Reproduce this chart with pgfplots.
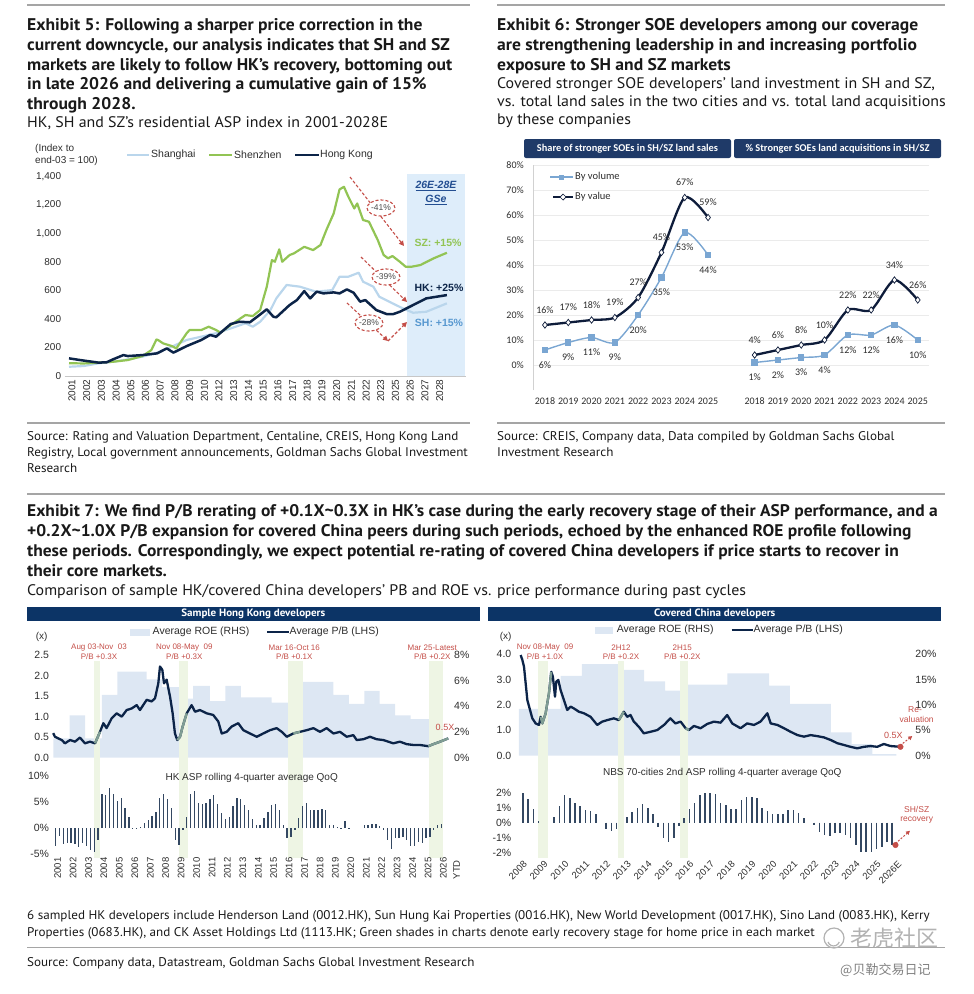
\documentclass[border=0pt]{standalone}
\usepackage{fontspec}
\setmainfont{Liberation Sans}
\newfontfamily\gs[FakeStretch=1.04]{PT Sans}
\newfontfamily\carl{Carlito}
\newfontfamily\cjk{Noto Sans CJK SC}
\usepackage{pgfplots}
\usepackage{pgfplotstable}
\pgfplotsset{compat=1.18}
\usetikzlibrary{arrows.meta}

\newcommand{\fs}[1]{\fontsize{#1}{#1}\selectfont}

\definecolor{txt}{RGB}{45,45,45}
\definecolor{ttl}{RGB}{25,25,25}
\definecolor{rulec}{RGB}{165,165,165}
\definecolor{hkblue}{RGB}{12,36,72}
\definecolor{szgreen}{RGB}{146,196,84}
\definecolor{shblue}{RGB}{186,214,236}
\definecolor{shlab}{RGB}{88,152,208}
\definecolor{fcast}{RGB}{222,237,250}
\definecolor{gsblue}{RGB}{35,78,145}
\definecolor{annred}{RGB}{196,78,72}
\definecolor{hdr}{RGB}{31,58,104}
\definecolor{vol}{RGB}{122,166,210}
\definecolor{val}{RGB}{14,28,58}
\definecolor{roe}{RGB}{221,231,243}
\definecolor{band}{RGB}{238,245,228}
\definecolor{bandline}{RGB}{128,158,148}
\definecolor{barc}{RGB}{52,72,98}
\definecolor{hdrb}{RGB}{12,52,102}

\pgfplotsset{
  panel/.style={scale only axis, anchor=south west, clip=false,
    major tick length=0pt, axis line style={draw=none},
    tick label style={font=\fs{10.5}, text=txt},
    /pgf/number format/assume math mode=true},
}

% ---------- data ----------
% HK average P/B
\pgfplotstableread{
x y
2000.84 0.60
2000.95 0.51
2001.17 0.47
2001.39 0.43
2001.60 0.35
2001.93 0.43
2002.25 0.39
2002.57 0.49
2002.90 0.35
2003.22 0.39
2003.55 0.35
2003.87 0.63
2004.09 0.84
2004.30 0.72
2004.63 0.96
2004.95 1.08
2005.28 1.00
2005.60 1.16
2005.93 1.20
2006.25 1.28
2006.46 1.16
2006.90 1.41
2007.22 1.37
2007.44 1.45
2007.65 1.81
2007.76 2.22
2007.91 2.14
2008.02 1.81
2008.19 1.90
2008.41 1.49
2008.58 1.08
2008.73 0.59
2008.88 0.43
2009.06 0.51
2009.23 0.76
2009.49 1.08
2009.81 1.28
2010.03 1.12
2010.35 1.16
2010.79 1.08
2011.21 1.04
2011.54 0.88
2011.76 0.59
2012.08 0.63
2012.41 0.76
2012.83 0.84
2013.16 0.67
2013.59 0.59
2014.03 0.51
2014.45 0.59
2014.89 0.67
2015.32 0.72
2015.65 0.63
2015.97 0.51
2016.40 0.59
2016.83 0.63
2017.27 0.67
2017.70 0.72
2018.13 0.63
2018.56 0.72
2019.00 0.59
2019.43 0.63
2019.86 0.51
2020.29 0.55
2020.51 0.43
2020.94 0.45
2021.37 0.51
2021.80 0.45
2022.23 0.43
2022.88 0.35
2023.31 0.39
2023.75 0.33
2024.18 0.31
2024.61 0.31
2025.15 0.28
2025.47 0.33
2025.91 0.39
2026.44 0.47
}\hkpb

% China average P/B
\pgfplotstableread{
x y
2007.89 3.96
2007.97 3.77
2008.05 3.50
2008.13 2.85
2008.21 2.19
2008.34 1.80
2008.45 1.47
2008.61 1.27
2008.77 1.21
2008.85 1.53
2008.93 1.27
2009.09 1.67
2009.25 2.45
2009.36 3.30
2009.44 3.10
2009.54 2.32
2009.60 2.91
2009.70 2.98
2009.81 2.58
2009.97 2.19
2010.13 1.80
2010.29 1.93
2010.45 1.86
2010.69 1.73
2010.93 1.67
2011.25 1.53
2011.57 1.21
2011.81 1.34
2012.05 1.40
2012.37 1.47
2012.61 1.40
2012.85 1.73
2013.01 1.53
2013.17 1.60
2013.33 1.34
2013.57 1.14
2013.81 0.88
2014.13 0.94
2014.46 1.01
2014.78 1.21
2015.09 1.47
2015.33 1.27
2015.58 1.34
2015.82 1.08
2015.98 1.01
2016.22 1.17
2016.54 1.08
2016.86 1.25
2017.18 1.34
2017.50 1.30
2017.82 1.60
2018.06 1.27
2018.46 1.08
2018.78 1.27
2019.11 1.21
2019.42 1.34
2019.75 1.67
2019.91 1.27
2020.23 1.21
2020.55 1.08
2020.87 0.94
2021.20 0.81
2021.51 0.75
2021.83 0.81
2022.15 0.77
2022.47 0.72
2022.79 0.62
2023.12 0.49
2023.44 0.42
2023.75 0.35
2024.07 0.29
2024.39 0.35
2024.71 0.38
2025.03 0.35
2025.35 0.46
2025.67 0.38
2026.15 0.35
}\cnpb

% HK ASP rolling 4Q avg QoQ (%), quarterly
\pgfplotstableread{
x y
2001.00 -3.5
2001.25 -1.5
2001.50 -3.0
2001.75 -2.8
2002.00 -2.8
2002.25 -3.0
2002.50 -3.6
2002.75 -2.8
2003.00 -3.5
2003.25 -4.3
2003.50 -4.6
2003.75 -2.3
2004.00 6.6
2004.25 6.3
2004.50 7.6
2004.75 6.6
2005.00 5.1
2005.25 5.8
2005.50 3.8
2005.75 2.2
2006.00 -0.2
2006.25 -0.1
2006.50 0.1
2006.75 1.0
2007.00 1.5
2007.25 2.4
2007.50 3.1
2007.75 5.8
2008.00 6.6
2008.25 5.6
2008.50 3.8
2008.75 -2.4
2009.00 -3.3
2009.25 -0.4
2009.50 2.1
2009.75 6.6
2010.00 7.1
2010.25 4.8
2010.50 4.7
2010.75 4.9
2011.00 5.6
2011.25 6.3
2011.50 4.6
2011.75 2.8
2012.00 1.8
2012.25 2.1
2012.50 4.2
2012.75 5.8
2013.00 5.5
2013.25 4.4
2013.50 3.4
2013.75 1.8
2014.00 0.5
2014.25 0.6
2014.50 2.0
2014.75 3.1
2015.00 4.5
2015.25 4.7
2015.50 3.5
2015.75 0.6
2016.00 -2.0
2016.25 -1.7
2016.50 -0.3
2016.75 1.9
2017.00 4.2
2017.25 4.9
2017.50 3.5
2017.75 3.5
2018.00 3.5
2018.25 3.7
2018.50 3.4
2018.75 0.6
2019.00 0.6
2019.25 0.2
2019.50 -0.1
2019.75 1.3
2020.00 -0.2
2020.25 0.0
2020.50 0.0
2020.75 0.0
2021.00 0.6
2021.25 0.5
2021.50 0.8
2021.75 0.8
2022.00 0.3
2022.25 -0.4
2022.50 -2.4
2022.75 -4.0
2023.00 -2.0
2023.25 -2.0
2023.50 -1.7
2023.75 -2.4
2024.00 -3.5
2024.25 -3.5
2024.50 -2.6
2024.75 -2.9
2025.00 -2.0
2025.25 -1.7
2025.50 -0.4
2025.75 0.6
2026.00 0.8
}\hkasp

% NBS 70-cities 2nd ASP rolling 4Q avg QoQ (%), quarterly
\pgfplotstableread{
x y
2008.00 1.98
2008.25 1.57
2008.50 0.90
2008.75 0.13
2009.00 0.00
2009.25 0.00
2009.50 0.36
2009.75 1.12
2010.00 1.87
2010.25 1.64
2010.50 1.35
2010.75 1.15
2011.00 0.85
2011.25 0.80
2011.50 0.56
2011.75 0.00
2012.00 -0.45
2012.25 -0.54
2012.50 -0.45
2012.75 0.00
2013.00 0.36
2013.25 0.74
2013.50 0.97
2013.75 1.26
2014.00 0.97
2014.25 0.56
2014.50 -0.27
2014.75 -1.00
2015.00 -1.28
2015.25 -1.06
2015.50 -0.20
2015.75 0.29
2016.00 0.90
2016.25 1.30
2016.50 1.87
2016.75 1.98
2017.00 1.98
2017.25 1.93
2017.50 1.35
2017.75 1.19
2018.00 0.90
2018.25 0.90
2018.50 1.53
2018.75 1.71
2019.00 1.75
2019.25 1.64
2019.50 1.00
2019.75 0.80
2020.00 0.58
2020.25 0.58
2020.50 0.58
2020.75 0.85
2021.00 0.85
2021.25 0.63
2021.50 0.29
2021.75 0.00
2022.00 -0.16
2022.25 -0.60
2022.50 -0.83
2022.75 -0.90
2023.00 -0.67
2023.25 -0.72
2023.50 -0.83
2023.75 -1.06
2024.00 -1.50
2024.25 -2.00
2024.50 -2.00
2024.75 -2.00
2025.00 -1.80
2025.25 -1.66
2025.50 -1.28
2025.75 -1.50
}\cnasp

\begin{document}
\begin{tikzpicture}
\path[use as bounding box] (0pt,0pt) rectangle (974pt,-994pt);

\begin{scope}[x=1pt,y=-1pt]
\coordinate (e5) at (64.6,376);
\coordinate (e6) at (533.3,390);
\coordinate (hkt) at (52.6,757.7);
\coordinate (hkb) at (52.6,854);
\coordinate (cnt) at (518.8,755.7);
\coordinate (cnb) at (518.8,855.4);

% rules
\draw[rulec, line width=1.6pt] (27,5) -- (470,5);
\draw[rulec, line width=1.6pt] (497,5) -- (945,5);
\draw[rulec, line width=1.6pt] (27,423) -- (470,423);
\draw[rulec, line width=1.6pt] (497,423) -- (945,423);
\draw[rulec, line width=1.6pt] (27,494) -- (945,494);
\draw[rulec, line width=0.8pt] (27,947) -- (945,947);

% titles
\begin{scope}[every node/.style={anchor=base west, inner sep=0pt, text=ttl}]
\node[font=\gs\bfseries\fs{16.9}] at (27,30) {Exhibit 5: Following a sharper price correction in the};
\node[font=\gs\bfseries\fs{16.9}] at (27,50) {current downcycle, our analysis indicates that SH and SZ};
\node[font=\gs\bfseries\fs{16.9}] at (27,70) {markets are likely to follow HK’s recovery, bottoming out};
\node[font=\gs\bfseries\fs{16.9}] at (27,89) {in late 2026 and delivering a cumulative gain of 15\%};
\node[font=\gs\bfseries\fs{16.9}] at (27,109) {through 2028.};
\node[font=\gs\fs{15.3}] at (27,127) {HK, SH and SZ’s residential ASP index in 2001-2028E};

\node[font=\gs\bfseries\fs{16.9}] at (497,30) {Exhibit 6: Stronger SOE developers among our coverage};
\node[font=\gs\bfseries\fs{16.9}] at (497,50) {are strengthening leadership in and increasing portfolio};
\node[font=\gs\bfseries\fs{16.9}] at (497,70) {exposure to SH and SZ markets};
\node[font=\gs\fs{15.3}] at (497,88) {Covered stronger SOE developers’ land investment in SH and SZ,};
\node[font=\gs\fs{15.3}] at (497,106) {vs. total land sales in the two cities and vs. total land acquisitions};
\node[font=\gs\fs{15.3}] at (497,124) {by these companies};

\node[font=\gs\fs{12.6}] at (27,440) {Source: Rating and Valuation Department, Centaline, CREIS, Hong Kong Land};
\node[font=\gs\fs{12.6}] at (27,456) {Registry, Local government announcements, Goldman Sachs Global Investment};
\node[font=\gs\fs{12.6}] at (27,472) {Research};
\node[font=\gs\fs{12.6}] at (497,440) {Source: CREIS, Company data, Data compiled by Goldman Sachs Global};
\node[font=\gs\fs{12.6}] at (497,456) {Investment Research};

\node[font=\gs\bfseries\fs{16.8}] at (27,516) {Exhibit 7: We find P/B rerating of +0.1X\textasciitilde0.3X in HK’s case during the early recovery stage of their ASP performance, and a};
\node[font=\gs\bfseries\fs{16.8}] at (27,536) {+0.2X\textasciitilde1.0X P/B expansion for covered China peers during such periods, echoed by the enhanced ROE profile following};
\node[font=\gs\bfseries\fs{16.8}] at (27,556) {these periods. Correspondingly, we expect potential re-rating of covered China developers if price starts to recover in};
\node[font=\gs\bfseries\fs{16.8}] at (27,576) {their core markets.};
\node[font=\gs\fs{15.3}] at (27,595) {Comparison of sample HK/covered China developers’ PB and ROE vs. price performance during past cycles};

\node[font=\gs\fs{12.6}] at (27,919.5) {6 sampled HK developers include Henderson Land (0012.HK), Sun Hung Kai Properties (0016.HK), New World Development (0017.HK), Sino Land (0083.HK), Kerry};
\node[font=\gs\fs{12.6}] at (27,936.5) {Properties (0683.HK), and CK Asset Holdings Ltd (1113.HK; Green shades in charts denote early recovery stage for home price in each market};
\node[font=\gs\fs{12.6}] at (27,966.5) {Source: Company data, Datastream, Goldman Sachs Global Investment Research};
\end{scope}

% watermark
\draw[black!30, line width=1.2pt] (834,938) circle (10pt);
\draw[black!30, line width=1.2pt] (828,942) arc[start angle=200, end angle=340, radius=6pt];
\node[font=\cjk\fs{22}, text=black!30, anchor=west, inner sep=0] at (850,938) {老虎社区};
\node[font=\cjk\fs{13}, text=black!50, anchor=west, inner sep=0] at (840,970) {@贝勒交易日记};

% ----- Exhibit 5 decorations -----
\node[font=\fs{10}, text=txt, anchor=west, inner sep=0, align=left] at (35,149) {(Index to};
\node[font=\fs{10}, text=txt, anchor=west, inner sep=0] at (35,161) {end-03 = 100)};
\draw[shblue, line width=2.4pt] (127,155) -- (149,155);
\node[font=\fs{10.5}, text=txt, anchor=west, inner sep=0] at (151,155) {Shanghai};
\draw[szgreen, line width=2.4pt] (209,155) -- (232,155);
\node[font=\fs{10.5}, text=txt, anchor=west, inner sep=0] at (234,155) {Shenzhen};
\draw[hkblue, line width=2.4pt] (295,155) -- (319,155);
\node[font=\fs{10.5}, text=txt, anchor=west, inner sep=0] at (320,155) {Hong Kong};

% ----- Exhibit 6 decorations -----
\fill[hdr, rounded corners=2pt] (524,139) rectangle (731,158);
\fill[hdr, rounded corners=2pt] (734,139) rectangle (941,158);
\node[font=\carl\bfseries\fs{10.4}, text=white] at (627.5,148.5) {Share of stronger SOEs in SH/SZ land sales};
\node[font=\carl\bfseries\fs{10.4}, text=white] at (837.5,148.5) {\% Stronger SOEs land acquisitions in SH/SZ};
\draw[vol, line width=1.3pt] (550,177) -- (573,177);
\fill[vol] (559,174.5) rectangle (564,179.5);
\node[font=\carl\fs{10.5}, text=txt, anchor=west, inner sep=0] at (575,177) {By volume};
\draw[val, line width=2.2pt] (553,197) -- (573,197);
\draw[val, fill=white, line width=0.7pt] (563,194) -- (566,197) -- (563,200) -- (560,197) -- cycle;
\node[font=\carl\fs{10.5}, text=txt, anchor=west, inner sep=0] at (575,197) {By value};

% ----- Exhibit 7 decorations -----
\fill[hdrb] (26.7,607.3) rectangle (480,620.7);
\fill[hdrb] (488.3,607.3) rectangle (941,620.7);
\node[font=\gs\bfseries\fs{10.6}, text=white] at (253.3,614) {Sample Hong Kong developers};
\node[font=\gs\bfseries\fs{10.6}, text=white] at (714.7,614) {Covered China developers};
\fill[roe] (130,628.5) rectangle (150,635.5);
\node[font=\fs{10.5}, text=txt, anchor=west, inner sep=0] at (152.5,632) {Average ROE (RHS)};
\draw[hkblue, line width=2pt] (267,632) -- (289,632);
\node[font=\fs{10.5}, text=txt, anchor=west, inner sep=0] at (289.5,632) {Average P/B (LHS)};
\fill[roe] (595,626.5) rectangle (613.3,633.5);
\node[font=\fs{10.5}, text=txt, anchor=west, inner sep=0] at (616.7,630) {Average ROE (RHS)};
\draw[hkblue, line width=2pt] (731.7,630) -- (753.3,630);
\node[font=\fs{10.5}, text=txt, anchor=west, inner sep=0] at (753.5,630) {Average P/B (LHS)};
\node[font=\fs{10}, text=txt] at (41.7,637) {(x)};
\node[font=\fs{10}, text=txt] at (505.7,637) {(x)};
\end{scope}

% ================= Exhibit 5 =================
\begin{axis}[panel, at={(e5)}, width=401.4pt, height=202.3pt,
  xmin=-0.3, xmax=27, ymin=0, ymax=1420,
  axis x line*=bottom, axis y line*=left,
  x axis line style={draw=black!22, line width=0.8pt, -},
  y axis line style={draw=none},
  xtick={0,1,2,3,4,5,6,7,8,9,10,11,12,13,14,15,16,17,18,19,20,21,22,23,24,25},
  xticklabels={2001,2002,2003,2004,2005,2006,2007,2008,2009,2010,2012,2013,2014,2015,2016,2017,2018,2019,2020,2021,2022,2023,2025,2026,2027,2028},
  xticklabel style={rotate=90, anchor=east, font=\fs{10}, yshift=-3pt},
  ytick={0,200,400,600,800,1000,1200,1400}, scaled y ticks=false,
  yticklabel style={font=\fs{10}, /pgf/number format/1000 sep={,}},
  line join=round,
]
\addplot[draw=none, fill=fcast] coordinates {(23.0,1420) (26.9,1420)} \closedcycle;
\addplot[shblue, line width=2.2pt] coordinates {
(0,65)(1,70)(2,89)(3,100)(4,117)(5,136)(6,164)(7,206)(8,253)(9,276)(10,300)(11,334)
(12,370)(12.5,346)(13,381)(13.7,463)(14.1,545)(14.8,639)(15.7,627)(16.8,592)(17.9,603)
(18.4,697)(19,697)(19.7,725)(20,662)(20.7,627)(21.1,557)(22,510)(22.7,475)(23.4,444)
(24.3,451)(25.7,510)};
\addplot[szgreen, line width=2.2pt] coordinates {
(0,90)(1,88)(2,94)(3,100)(4,112)(5,140)(5.6,182)(5.95,257)(6.1,250)(6.4,229)(7,210)
(7.3,194)(8,300)(8.2,323)(9,323)(9.5,346)(10,323)(10.3,304)(11,358)(12,428)(12.5,421)
(13,463)(13.45,627)(13.8,814)(14.0,802)(14.3,889)(14.5,802)(15,849)(15.3,861)(16,907)
(16.6,884)(17.1,919)(17.5,1024)(18,1141)(18.4,1310)(18.7,1328)(19,1258)(19.4,1176)
(19.6,1211)(20,1095)(20.4,1083)(21,954)(21.4,849)(21.7,826)(22,842)(22.5,802)(22.9,767)
(23.3,767)(23.9,779)(24.8,826)(25.7,865)};
\addplot[hkblue, line width=2.5pt] coordinates {
(0,124)(0.75,112)(2,94)(2.55,96)(3,117)(3.7,147)(4,140)(5,147)(6,159)(6.65,194)(7.1,164)
(8,210)(9,253)(9.6,288)(10,276)(11,365)(11.6,381)(12.3,377)(12.8,416)(13.45,468)(13.9,416)
(14.1,412)(15,498)(15.5,533)(16,596)(16.4,545)(16.85,592)(17.3,580)(18,587)(18.4,580)
(18.9,608)(19.35,585)(19.8,522)(20.15,533)(20.9,463)(21.6,435)(22.06,435)(22.5,451)
(23.4,498)(24.3,545)(25.7,568)};
\end{axis}

\begin{scope}[x=1pt,y=-1pt]
\node[font=\bfseries\itshape\fs{10.5}, text=gsblue] at (436,186) {\underline{26E-28E}};
\node[font=\bfseries\itshape\fs{10.5}, text=gsblue] at (436,200) {\underline{GSe}};
\node[font=\bfseries\fs{10.5}, text=szgreen] at (438,243) {SZ: +15\%};
\node[font=\bfseries\fs{10.5}, text=hkblue] at (439,288) {HK: +25\%};
\node[font=\bfseries\fs{10.5}, text=shlab] at (439,323) {SH: +15\%};
\begin{scope}[annred, line width=1.1pt, dash pattern=on 3pt off 2pt]
\draw[-{Triangle[length=5pt,width=5pt]}] (350,177) -- (404,246);
\draw[-{Triangle[length=5pt,width=5pt]}] (361,257) -- (407,302);
\draw[-{Triangle[length=5pt,width=5pt]}] (347,303) -- (388,341);
\draw[-{Triangle[length=5pt,width=5pt]}] (388,341) -- (407,322);
\draw[fill=white] (381,208) ellipse [x radius=14pt, y radius=8pt];
\draw[fill=white] (386,277) ellipse [x radius=14pt, y radius=8pt];
\draw[fill=white] (369,323) ellipse [x radius=14pt, y radius=8pt];
\end{scope}
\node[font=\fs{8.5}, text=black!70] at (381,208) {-41\%};
\node[font=\fs{8.5}, text=black!70] at (386,277) {-39\%};
\node[font=\fs{8.5}, text=black!70] at (369,323) {-28\%};
\end{scope}

% ================= Exhibit 6 =================
\begin{axis}[panel, at={(e6)}, width=396.1pt, height=225pt,
  xmin=-0.5, xmax=16.5, ymin=-10, ymax=80,
  axis x line*=bottom, axis y line*=left,
  x axis line style={draw=none}, y axis line style={draw=black!18, line width=0.8pt, -},
  ytick={0,10,20,30,40,50,60,70,80}, yticklabel={\pgfmathprintnumber{\tick}\%},
  yticklabel style={font=\carl\fs{10}, xshift=-6pt},
  ymajorgrids, grid style={black!8, line width=0.6pt},
  xtick={0,1,2,3,4,5,6,7,9,10,11,12,13,14,15,16},
  xticklabels={2018,2019,2020,2021,2022,2023,2024,2025,2018,2019,2020,2021,2022,2023,2024,2025},
  xticklabel style={font=\carl\fs{10}, yshift=-4pt},
  every node near coord/.append style={font=\carl\fs{10}, text=txt, anchor=center},
  nodes near coords={\pgfmathprintnumber[fixed,precision=0]{\pgfplotspointmeta}\%},
]
\addplot[vol, line width=1.4pt, smooth, tension=0.45, mark=square*, mark size=2.5pt,
  mark options={fill=vol, draw=vol, solid},
  every node near coord/.append style={yshift=-15pt}]
  coordinates {(0,6)(1,9)(2,11)(3,9)(4,20)(5,35)(6,53)(7,44)};
\addplot[val, line width=2.3pt, smooth, tension=0.45, mark=diamond*, mark size=3.2pt,
  mark options={fill=white, draw=val, line width=0.7pt, solid},
  every node near coord/.append style={yshift=15pt}]
  coordinates {(0,16)(1,17)(2,18)(3,19)(4,27)(5,45)(6,67)(7,59)};
\addplot[vol, line width=1.4pt, smooth, tension=0.45, mark=square*, mark size=2.5pt,
  mark options={fill=vol, draw=vol, solid},
  every node near coord/.append style={yshift=-15pt}]
  coordinates {(9,1)(10,2)(11,3)(12,4)(13,12)(14,12)(15,16)(16,10)};
\addplot[val, line width=2.3pt, smooth, tension=0.45, mark=diamond*, mark size=3.2pt,
  mark options={fill=white, draw=val, line width=0.7pt, solid},
  every node near coord/.append style={yshift=15pt}]
  coordinates {(9,4)(10,6)(11,8)(12,10)(13,22)(14,22)(15,34)(16,26)};
\end{axis}

% ================= Exhibit 7: ROE areas (RHS) =================
\begin{axis}[panel, at={(hkt)}, width=398.1pt, height=102.7pt,
  xmin=2000.8, xmax=2026.6, ymin=0, ymax=8, hide x axis, axis y line*=right,
  ytick={0,2,4,6,8}, yticklabel={\pgfmathprintnumber{\tick}\%}]
\addplot[const plot, fill=roe, draw=none] coordinates {
(2000.85,1.5)(2001.9,3.3)(2002.9,1.5)(2004,4.9)(2005,6.7)(2006.9,6.1)(2007.9,5.5)
(2009.05,4.6)(2009.9,5.6)(2011,4.4)(2012,5.6)(2013,4.7)(2015,4.3)(2017,5.9)(2019,4.9)
(2020,4.2)(2021,5.2)(2022,4.2)(2023,3.3)(2024,3.0)(2025.25,3.0)} \closedcycle;
\end{axis}

\begin{axis}[panel, at={(cnt)}, width=393.1pt, height=101.7pt,
  xmin=2007.8, xmax=2026.7, ymin=0, ymax=20, hide x axis, axis y line*=right,
  ytick={0,5,10,15,20}, yticklabel={\pgfmathprintnumber{\tick}\%}]
\addplot[const plot, fill=roe, draw=none] coordinates {
(2007.8,9.2)(2009.81,15.7)(2010.83,18.0)(2012.83,16.9)(2013.83,14.6)(2014.83,12.8)
(2015.83,14.0)(2017.83,16.2)(2019.83,13.8)(2020.83,10.2)(2022.8,4.6)(2023.8,2.3)
(2024.8,0.3)(2025.95,0.3)} \closedcycle;
\end{axis}

% green shades: early recovery stages
\begin{scope}[x=1pt,y=-1pt]
\fill[band] (94.3,661) rectangle (100,858);
\fill[band] (178.7,661) rectangle (188,858);
\fill[band] (288.2,661) rectangle (302.6,858);
\fill[band] (429.1,661) rectangle (443.3,858);
\fill[band] (538.4,661) rectangle (548.4,858);
\fill[band] (617.6,661) rectangle (624.3,858);
\fill[band] (680,661) rectangle (687.7,858);
\end{scope}

% ================= Exhibit 7: HK P/B (LHS) =================
\begin{axis}[panel, at={(hkt)}, width=398.1pt, height=102.7pt,
  xmin=2000.8, xmax=2026.6, ymin=0, ymax=2.5, hide x axis, axis y line*=left,
  ytick={0,0.5,1,1.5,2,2.5},
  yticklabel style={/pgf/number format/.cd, fixed, fixed zerofill, precision=1},
  line join=round]
\addplot[hkblue, line width=2.3pt] table[x=x,y=y] {\hkpb};
\addplot[bandline, line width=2.3pt, restrict x to domain=2003.5:2003.9] table[x=x,y=y] {\hkpb};
\addplot[bandline, line width=2.3pt, restrict x to domain=2008.85:2009.6] table[x=x,y=y] {\hkpb};
\addplot[bandline, line width=2.3pt, restrict x to domain=2016.0:2017.0] table[x=x,y=y] {\hkpb};
\addplot[bandline, line width=2.3pt, restrict x to domain=2025.1:2026.5] table[x=x,y=y] {\hkpb};
\end{axis}

% ================= Exhibit 7: HK ASP bars =================
\begin{axis}[panel, at={(hkb)}, width=398.1pt, height=78pt,
  xmin=2000.8, xmax=2026.6, ymin=-5, ymax=10,
  axis x line*=bottom, axis y line*=left,
  ytick={-5,0,5,10}, yticklabel={\pgfmathprintnumber{\tick}\%},
  xtick={2001,2002,2003,2004,2005,2006,2007,2008,2009,2010,2011,2012,2013,2014,2015,2016,2017,2018,2019,2020,2021,2022,2023,2024,2025,2026},
  xticklabels={2001,2002,2003,2004,2005,2006,2007,2008,2009,2010,2011,2012,2013,2014,2015,2016,2017,2018,2019,2020,2021,2022,2023,2024,2025,2026},
  xticklabel style={rotate=90, anchor=east, font=\fs{9.5}, yshift=-2pt}]
\addplot[ycomb, barc, line width=1.3pt] table[x=x,y=y] {\hkasp};
\end{axis}

% ================= Exhibit 7: China P/B (LHS) =================
\begin{axis}[panel, at={(cnt)}, width=393.1pt, height=101.7pt,
  xmin=2007.8, xmax=2026.7, ymin=0, ymax=4, hide x axis, axis y line*=left,
  ytick={0,1,2,3,4},
  yticklabel style={/pgf/number format/.cd, fixed, fixed zerofill, precision=1, /tikz/xshift=-4pt},
  line join=round]
\addplot[hkblue, line width=2.3pt] table[x=x,y=y] {\cnpb};
\addplot[bandline, line width=2.3pt, restrict x to domain=2008.84:2009.35] table[x=x,y=y] {\cnpb};
\addplot[bandline, line width=2.3pt, restrict x to domain=2012.6:2013.0] table[x=x,y=y] {\cnpb};
\addplot[bandline, line width=2.3pt, restrict x to domain=2015.6:2016.05] table[x=x,y=y] {\cnpb};
\addplot[only marks, mark=*, mark size=2.8pt, annred] coordinates {(2026.15,0.35)};
\end{axis}

% ================= Exhibit 7: China ASP bars =================
\begin{axis}[panel, at={(cnb)}, width=393.1pt, height=69.8pt,
  xmin=2007.8, xmax=2026.7, ymin=-2.2, ymax=2.5,
  axis x line*=bottom, axis y line*=left,
  ytick={-2,-1,0,1,2}, yticklabel={\pgfmathprintnumber{\tick}\%},
  yticklabel style={xshift=-4pt},
  xtick={2008,2009,2010,2011,2012,2013,2014,2015,2016,2017,2018,2019,2020,2021,2022,2023,2024,2025,2026},
  xticklabels={2008,2009,2010,2011,2012,2013,2014,2015,2016,2017,2018,2019,2020,2021,2022,2023,2024,2025,2026E},
  xticklabel style={rotate=45, anchor=north east, font=\fs{9.5}}]
\addplot[ycomb, barc, line width=1.6pt] table[x=x,y=y] {\cnasp};
\addplot[only marks, mark=*, mark size=2.8pt, annred] coordinates {(2025.91,-1.5)};
\end{axis}

% annotations, Exhibit 7
\begin{scope}[x=1pt,y=-1pt, every node/.style={font=\fs{8}, text=annred, align=center, inner sep=0}]
\node at (99,647.7) {Aug 03-Nov\ \ 03};
\node at (99,656.7) {P/B +0.3X};
\node at (184.3,647.7) {Nov 08-May\ \ 09};
\node at (184.3,656.7) {P/B +0.3X};
\node at (294.3,647.7) {Mar 16-Oct 16};
\node at (294.3,656.7) {P/B +0.1X};
\node at (432.3,647.7) {Mar 25-Latest};
\node at (432.3,656.7) {P/B +0.2X};
\node[font=\fs{9}] at (445,727.7) {0.5X};
\node at (545,647.7) {Nov 08-May\ \ 09};
\node at (545,656.7) {P/B +1.0X};
\node at (621,647.7) {2H12};
\node at (621,656.7) {P/B +0.2X};
\node at (682.3,647.7) {2H15};
\node at (682.3,656.7) {P/B +0.2X};
\node[font=\fs{8.5}] at (915,709.3) {Re-};
\node[font=\fs{8.5}] at (916.7,719.3) {valuation};
\node[font=\fs{9}] at (893.3,735) {0.5X};
\node[font=\fs{8.5}] at (916.7,809.3) {SH/SZ};
\node[font=\fs{8.5}] at (916.7,820) {recovery};
\draw[annred, line width=1pt, dash pattern=on 2pt off 1.5pt, -{Triangle[length=4pt,width=4pt]}] (900,745.5) -- (912.3,736);
\draw[annred, line width=1pt, dash pattern=on 2pt off 1.5pt, -{Triangle[length=4pt,width=4pt]}] (895.5,843.5) -- (910,830.7);
\node[font=\fs{10}, text=txt] at (251.7,778.3) {HK ASP rolling 4-quarter average QoQ};
\node[font=\fs{10}, text=txt] at (722.3,773.3) {NBS 70-cities 2nd ASP rolling 4-quarter average QoQ};
\node[font=\fs{9.5}, text=txt, rotate=90, anchor=east] at (456.5,860) {YTD};
\end{scope}

\end{tikzpicture}
\end{document}
